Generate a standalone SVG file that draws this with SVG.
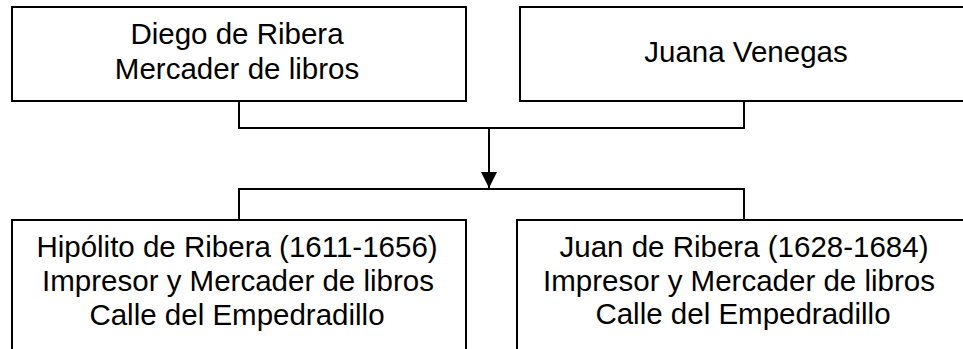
<svg xmlns="http://www.w3.org/2000/svg" width="963" height="349" viewBox="0 0 963 349">
<style>
.box{fill:#fff;stroke:#000;stroke-width:2}
.t{font-family:"Liberation Sans",Arial,sans-serif;font-size:29.5px;fill:#000;text-anchor:middle}
.c{fill:none;stroke:#000;stroke-width:2}
</style>
<defs>
<marker id="ah" markerWidth="16" markerHeight="16" refX="16" refY="8" orient="auto" markerUnits="userSpaceOnUse">
<path d="M0,0 L16,8 L0,16 Z" fill="#000"/>
</marker>
</defs>
<rect width="963" height="349" fill="#fff"/>
<g id="connectors">
<path class="c" d="M239,101 V128 H744 V101"/>
<path class="c" d="M489,128 V188" marker-end="url(#ah)"/>
<path class="c" d="M239,220 V189 H744 V220"/>
</g>
<g id="diego">
<rect class="box" x="12" y="7" width="454" height="94"/>
<text class="t" x="237" y="44">Diego de Ribera</text>
<text class="t" x="237" y="79">Mercader de libros</text>
</g>
<g id="juana">
<rect class="box" x="520" y="7" width="454" height="94"/>
<text class="t" x="746" y="62">Juana Venegas</text>
</g>
<g id="hipolito">
<rect class="box" x="12" y="220" width="454" height="140"/>
<text class="t" x="237" y="257">Hipólito de Ribera (1611-1656)</text>
<text class="t" x="238" y="291">Impresor y Mercader de libros</text>
<text class="t" x="237" y="325">Calle del Empedradillo</text>
</g>
<g id="juan">
<rect class="box" x="517" y="220" width="454" height="140"/>
<text class="t" x="744" y="257">Juan de Ribera (1628-1684)</text>
<text class="t" x="739" y="291">Impresor y Mercader de libros</text>
<text class="t" x="743" y="324">Calle del Empedradillo</text>
</g>
</svg>
